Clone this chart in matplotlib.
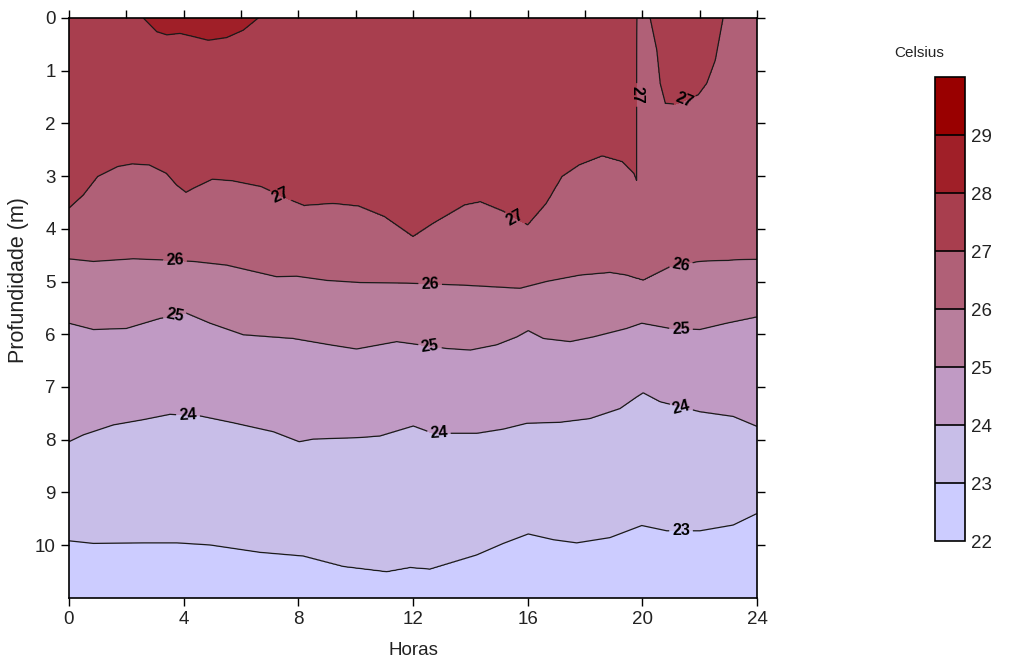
import numpy as np
import matplotlib.pyplot as plt
from matplotlib.ticker import MultipleLocator

plt.rcParams['font.family'] = ['Liberation Sans', 'DejaVu Sans']

# surface temperature along the day (hours, Celsius)
surf_h = [0, 2.59, 4.8, 6.6, 12, 19.7, 19.85, 20.27, 21.3, 22.82, 24]
surf_t = [27.8, 28.0, 28.3, 28.0, 27.8, 27.3, 26.9, 27.0, 27.3, 27.0, 26.6]
bottom_t = 22.5

# depth (m) of each isotherm along the day
h28 = [2.59, 3.06, 3.41, 3.87, 4.34, 4.86, 5.5, 6.08, 6.6]
d28 = [0.0, 0.26, 0.32, 0.29, 0.35, 0.42, 0.37, 0.23, 0.0]

h27 = [0, 0.5, 1.0, 1.7, 2.2, 2.8, 3.4, 3.75, 4.08, 4.35, 5.0, 5.7, 6.7, 7.7, 8.2,
       9.2, 10.1, 11.0, 12.0, 12.7, 13.8, 14.35, 15.15, 16.0, 16.65, 17.2, 17.8,
       18.6, 19.3, 19.7, 19.86, 20.27, 20.5, 20.62, 20.8, 21.15, 21.95, 22.25,
       22.55, 22.82, 24]
d27 = [3.61, 3.36, 3.01, 2.82, 2.77, 2.79, 2.95, 3.17, 3.31, 3.23, 3.06, 3.09, 3.2,
       3.45, 3.56, 3.52, 3.57, 3.77, 4.15, 3.9, 3.55, 3.49, 3.67, 3.93, 3.52, 3.01,
       2.79, 2.62, 2.73, 2.95, 3.17, 0.0, 0.6, 1.24, 1.62, 1.64, 1.46, 1.24, 0.8,
       0.0, 0.0]

h26 = [0, 0.85, 2.24, 3.17, 4.34, 5.5, 7.24, 7.94, 9.0, 10.15, 11.78, 13.76, 15.73,
       16.66, 17.83, 18.87, 19.45, 20.03, 20.97, 22.01, 24]
d26 = [4.57, 4.62, 4.57, 4.59, 4.62, 4.69, 4.91, 4.9, 4.98, 5.02, 5.03, 5.07, 5.13,
       5.0, 4.88, 4.83, 4.88, 4.98, 4.72, 4.62, 4.58]

h25 = [0, 0.85, 2.0, 3.17, 4.1, 4.92, 6.08, 7.82, 9.1, 10.03, 11.43, 13.17, 14.0,
       14.92, 15.62, 16.02, 16.55, 17.48, 18.29, 19.45, 19.98, 20.97, 22.01, 22.94, 24]
d25 = [5.79, 5.91, 5.89, 5.7, 5.6, 5.79, 6.01, 6.08, 6.2, 6.28, 6.14, 6.27, 6.3,
       6.2, 6.05, 5.93, 6.08, 6.14, 6.05, 5.89, 5.79, 5.89, 5.91, 5.79, 5.67]

h24 = [0, 0.5, 1.55, 2.6, 3.52, 4.57, 5.73, 7.13, 8.03, 8.52, 10.15, 10.85, 12.01,
       12.71, 14.22, 15.15, 15.97, 17.13, 18.17, 19.22, 19.8, 20.03, 20.62, 22.01,
       23.17, 24]
d24 = [8.04, 7.91, 7.72, 7.62, 7.52, 7.55, 7.68, 7.85, 8.04, 7.99, 7.96, 7.93, 7.74,
       7.88, 7.88, 7.8, 7.69, 7.67, 7.6, 7.41, 7.19, 7.11, 7.28, 7.47, 7.56, 7.75]

h23 = [0, 0.85, 2.6, 3.76, 4.92, 6.66, 8.17, 9.57, 11.08, 11.9, 12.59, 14.22, 15.15,
       16.02, 16.9, 17.71, 18.87, 19.98, 20.85, 22.01, 23.17, 24]
d23 = [9.92, 9.97, 9.96, 9.96, 10.0, 10.14, 10.21, 10.41, 10.51, 10.43, 10.46, 10.19,
       9.97, 9.79, 9.9, 9.96, 9.86, 9.63, 9.73, 9.73, 9.62, 9.4]

levels = [22, 23, 24, 25, 26, 27, 28, 29, 30]
colors = ['#CCCCFF', '#C8BEE8', '#C09AC4', '#B87E9C', '#B06077', '#A83E4E',
          '#A01F28', '#990000']

isos = [(28, h28, d28), (27, h27, d27), (26, h26, d26),
        (25, h25, d25), (24, h24, d24), (23, h23, d23)]

# build the temperature section column by column from the isotherm depths
hx = np.linspace(0, 24, 1201)
dz = np.linspace(0, 11, 551)
ts = np.interp(hx, surf_h, surf_t)
T = np.empty((len(dz), len(hx)))
for j, x in enumerate(hx):
    zs, vs = [0.0], [ts[j]]
    for lev, ih, idp in isos:
        if lev < ts[j]:
            d = np.interp(x, ih, idp)
            if d <= zs[-1]:
                d = zs[-1] + 1e-3
            zs.append(d)
            vs.append(lev)
    zs.append(11.0)
    vs.append(bottom_t)
    T[:, j] = np.interp(dz, zs, vs)

fig = plt.figure(figsize=(10.22, 6.64), dpi=100)
ax = fig.add_axes([69/1022, 1-597.7/664, 688/1022, 579.7/664])

cf = ax.contourf(hx, dz, T, levels=levels, colors=colors)
cs = ax.contour(hx, dz, T, levels=levels[1:7], colors='#1a1a1a', linewidths=0.9)

lab_pos = [(7.4, 3.35), (15.55, 3.8), (19.85, 1.46), (21.5, 1.6),
           (3.7, 4.6), (12.6, 5.03), (21.35, 4.69),
           (3.7, 5.67), (12.6, 6.2), (21.35, 5.88),
           (4.15, 7.55), (12.9, 7.86), (21.35, 7.4),
           (21.35, 9.75)]
cl = ax.clabel(cs, fmt='%d', manual=lab_pos, fontsize=11.5, inline=True,
               inline_spacing=3, colors='black')
for t in cl:
    t.set_fontweight('bold')

ax.set_xlim(0, 24)
ax.set_ylim(11, 0)
ax.set_xticks(range(0, 25, 4))
ax.xaxis.set_minor_locator(MultipleLocator(2))
ax.set_yticks(range(0, 11))
ax.tick_params(which='major', direction='out', length=6, width=1,
               labelsize=13.5, right=True, top=True, color='black',
               labelcolor='#222222')
ax.tick_params(which='minor', direction='out', length=6, width=1,
               bottom=False, top=True)
for s in ax.spines.values():
    s.set_linewidth(1.2)

ax.set_xlabel('Horas', fontsize=13.5, labelpad=10, color='#222222')
ax.set_ylabel('Profundidade (m)', fontsize=15.5, color='#222222')
ax.yaxis.set_label_coords(-0.058, 0.548)

cax = fig.add_axes([935/1022, 1-541/664, 30/1022, 464/664])
cb = fig.colorbar(cf, cax=cax, ticks=range(22, 30), drawedges=True)
cb.outline.set_linewidth(1.2)
cb.dividers.set_color('black')
cb.dividers.set_linewidth(1.2)
cax.tick_params(length=0, labelsize=13.5, pad=4, labelcolor='#222222')
fig.text(919/1022, 1-53/664, 'Celsius', fontsize=11, ha='center', va='center',
         color='#222222')

fig.savefig('out.png', dpi=100)
